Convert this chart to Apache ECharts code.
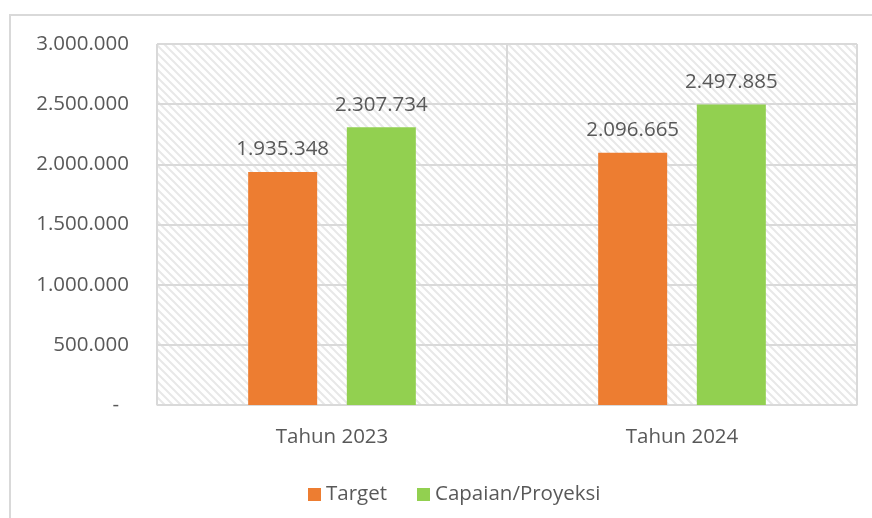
<!DOCTYPE html>
<html>
<head>
<meta charset="utf-8">
<script src="https://cdn.jsdelivr.net/npm/echarts@6/dist/echarts.min.js"></script>
<style>
  html, body { margin: 0; padding: 0; background: #fff; }
  #chart { width: 872px; height: 518px; }
</style>
</head>
<body>
<div id="chart"></div>
<script>
// data
var categories = ['Tahun 2023', 'Tahun 2024'];
var targetValues = [1935348, 2096665];
var capaianValues = [2307734, 2497885];
var seriesNames = ['Target', 'Capaian/Proyeksi'];

function fmt(v) {
    return String(v).replace(/\B(?=(\d{3})+(?!\d))/g, '.');
}

// diagonal hatch for the plot background
function hatch() {
    var s = 8;
    var c = document.createElement('canvas');
    c.width = s; c.height = s;
    var ctx = c.getContext('2d');
    ctx.fillStyle = '#ffffff';
    ctx.fillRect(0, 0, s, s);
    ctx.strokeStyle = '#e8e8e8';
    ctx.lineWidth = 2;
    ctx.beginPath();
    ctx.moveTo(-1, -1); ctx.lineTo(s + 1, s + 1);
    ctx.moveTo(-1, s - 1); ctx.lineTo(1, s + 1);
    ctx.moveTo(s - 1, -1); ctx.lineTo(s + 1, 1);
    ctx.stroke();
    return c;
}

var textColor = '#595959';
var font = 'Open Sans';

var myChart = echarts.init(document.getElementById('chart'));
var option = {
    animation: false,
    textStyle: { fontFamily: font },
    graphic: [{
        type: 'rect',
        shape: { x: 10, y: 15, width: 900, height: 600 },
        style: { fill: null, stroke: '#d9d9d9', lineWidth: 2 },
        silent: true
    }],
    grid: {
        left: 157, right: 15, top: 44, bottom: 113,
        show: true,
        backgroundColor: { image: hatch(), repeat: 'repeat' },
        borderColor: '#d9d9d9',
        borderWidth: 1
    },
    legend: {
        data: seriesNames,
        left: 303, top: 479,
        itemWidth: 13, itemHeight: 13,
        itemGap: 30,
        icon: 'rect',
        textStyle: { color: textColor, fontSize: 20.5, fontFamily: font }
    },
    xAxis: {
        type: 'category',
        data: categories,
        axisLine: { lineStyle: { color: '#d9d9d9', width: 1 } },
        axisTick: { show: false },
        splitLine: { show: true, lineStyle: { color: '#d9d9d9', width: 2 } },
        axisLabel: { color: textColor, fontSize: 20.5, margin: 22, fontFamily: font }
    },
    yAxis: {
        type: 'value',
        min: 0, max: 3000000, interval: 500000,
        axisLine: { show: false },
        axisTick: { show: false },
        splitLine: { lineStyle: { color: '#d9d9d9', width: 2 } },
        axisLabel: {
            color: textColor, fontSize: 20.5, margin: 28, fontFamily: font,
            formatter: function (v) { return v === 0 ? '{d|-}' : fmt(v); },
            rich: { d: { color: textColor, fontSize: 20.5, fontFamily: font, padding: [0, 10, 0, 0] } }
        }
    },
    series: [{
        name: seriesNames[0],
        type: 'bar',
        data: targetValues,
        barWidth: 69,
        barGap: '43%',
        itemStyle: { color: '#ED7D31' },
        label: {
            show: true, position: 'top', distance: 12,
            color: textColor, fontSize: 20.5, fontFamily: font,
            formatter: function (p) { return fmt(p.value); }
        }
    }, {
        name: seriesNames[1],
        type: 'bar',
        data: capaianValues,
        barWidth: 69,
        barGap: '43%',
        itemStyle: { color: '#92D050' },
        label: {
            show: true, position: 'top', distance: 12,
            color: textColor, fontSize: 20.5, fontFamily: font,
            formatter: function (p) { return fmt(p.value); }
        }
    }]
};
myChart.setOption(option, true);
</script>
</body>
</html>
